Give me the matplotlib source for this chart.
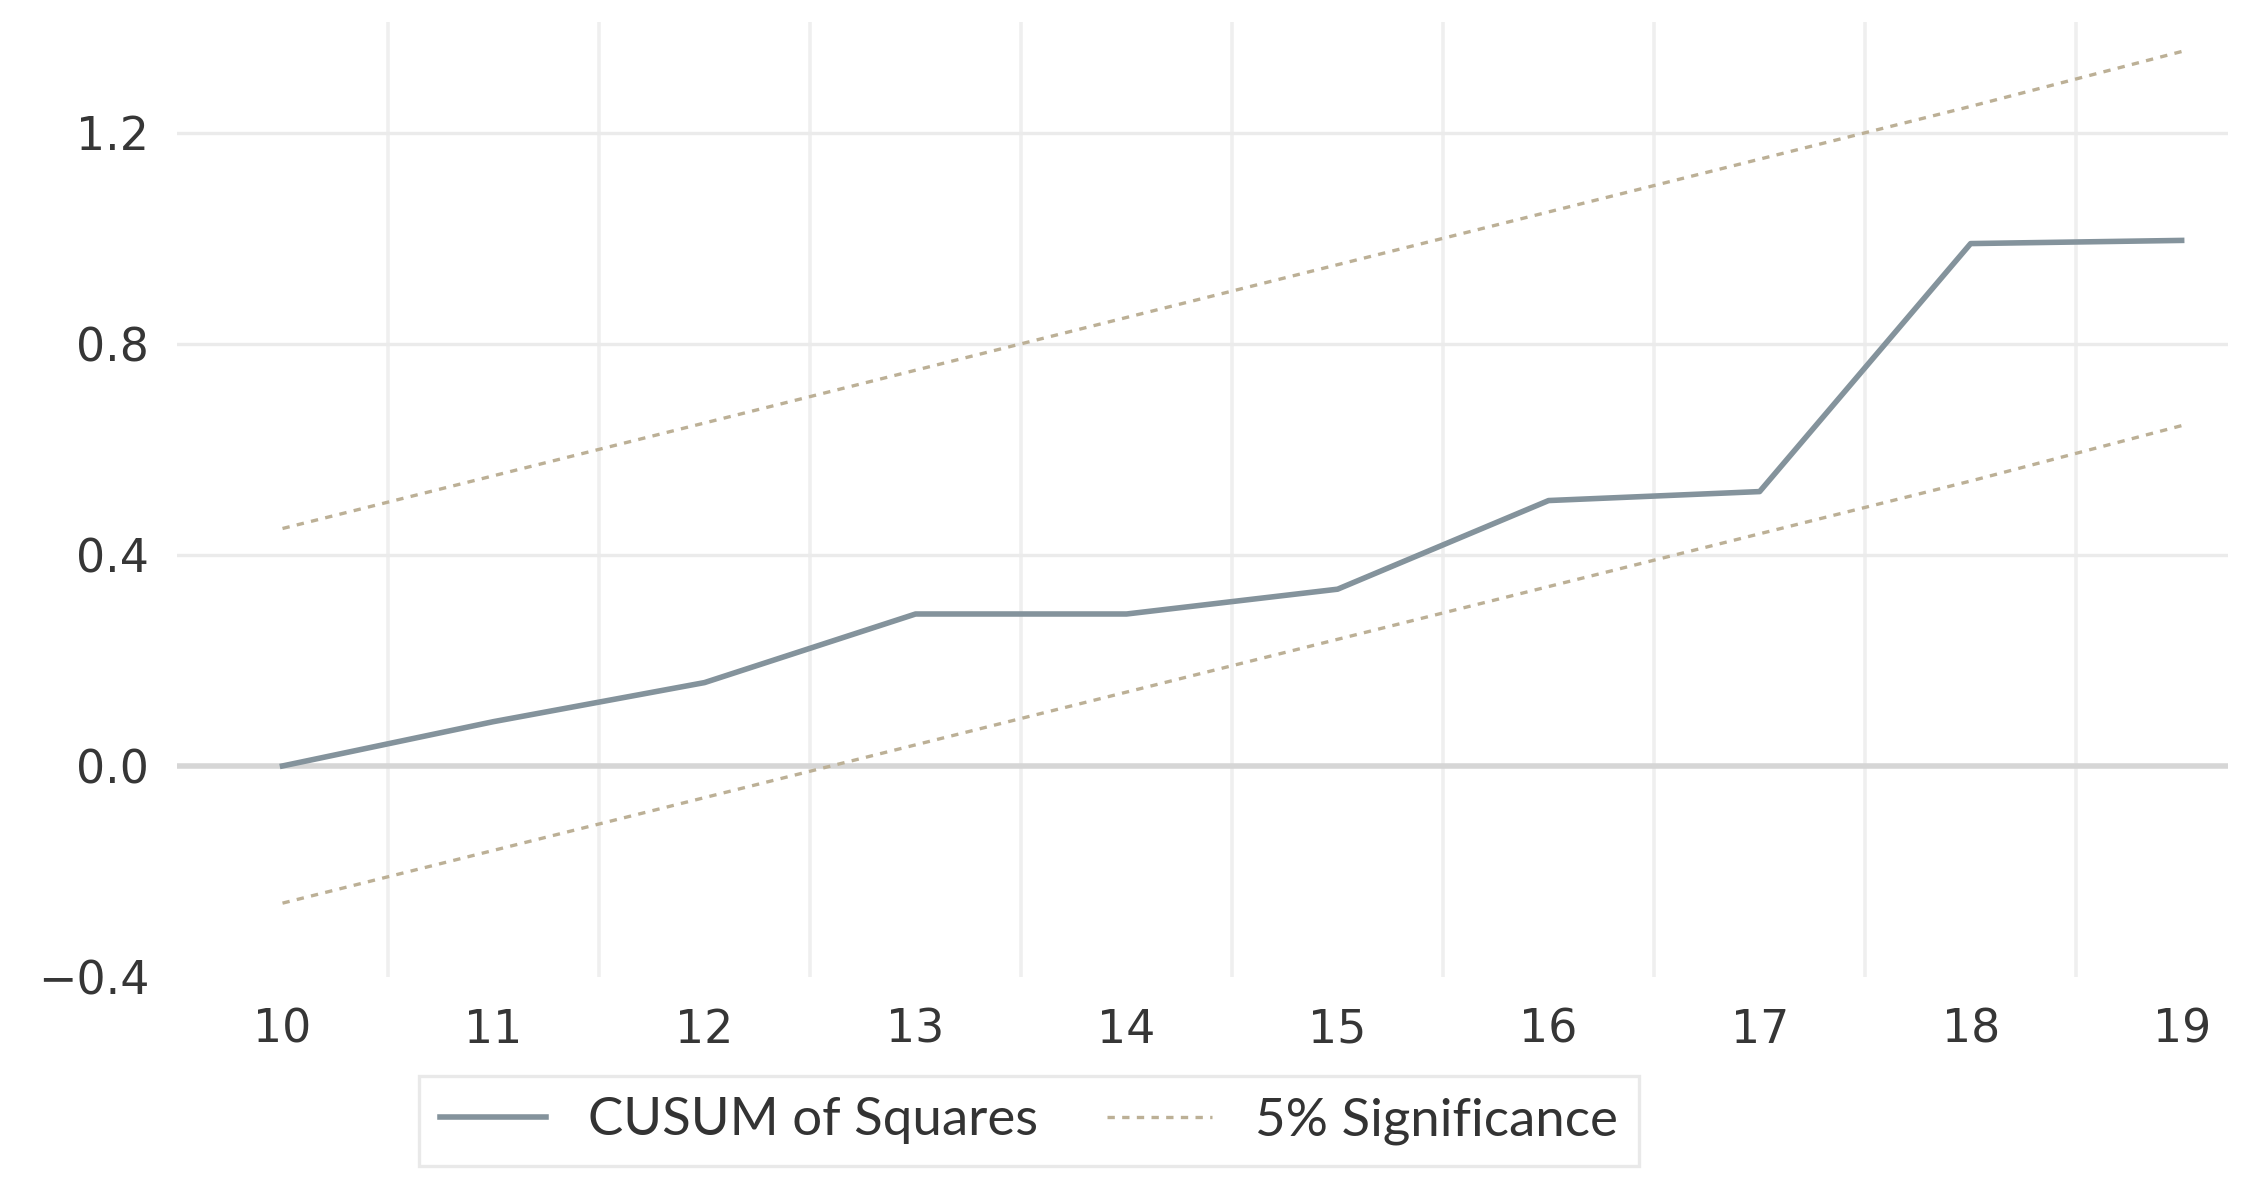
import matplotlib
matplotlib.use("Agg")
import matplotlib.pyplot as plt

# data
years = [10, 11, 12, 13, 14, 15, 16, 17, 18, 19]
cusum_sq = [0.0, 0.084, 0.158, 0.288, 0.288, 0.335, 0.503, 0.52, 0.99, 0.996]
upper_5 = [0.45, 0.55, 0.65, 0.75, 0.85, 0.95, 1.05, 1.15, 1.25, 1.354]
lower_5 = [-0.26, -0.16, -0.06, 0.04, 0.14, 0.24, 0.34, 0.44, 0.54, 0.645]
y_ticks = [-0.4, 0.0, 0.4, 0.8, 1.2]
v_grid = [10.5, 11.5, 12.5, 13.5, 14.5, 15.5, 16.5, 17.5, 18.5]

fig = plt.figure(figsize=(11.245, 5.935), dpi=200)
ax = fig.add_axes([0.0787, 0.1769, 0.912, 0.8046])

# grid
for gx in v_grid:
    ax.axvline(gx, color="#efefef", lw=1.3, zorder=0)
for gy in y_ticks[2:]:
    ax.axhline(gy, color="#ebebeb", lw=1.2, zorder=0)
ax.axhline(0.0, color="#d6d6d6", lw=2.0, zorder=1)

ax.plot(years, cusum_sq, color="#84939c", lw=2.0, label="CUSUM of Squares", zorder=3)
ax.plot(years, upper_5, color="#bcb096", lw=1.2, linestyle=(0, (2.2, 2.2)),
        label="5% Significance", zorder=2)
ax.plot(years, lower_5, color="#bcb096", lw=1.2, linestyle=(0, (2.2, 2.2)), zorder=2)

ax.set_xlim(9.5, 19.22)
ax.set_ylim(-0.4, 1.41)
ax.set_xticks(years)
ax.set_yticks(y_ticks)
ax.set_yticklabels(["\u22120.4", "0.0", "0.4", "0.8", "1.2"])
ax.tick_params(axis="both", length=0, labelsize=16.5, colors="#363636")
ax.tick_params(axis="y", pad=10)
ax.tick_params(axis="x", pad=11)
for s in ax.spines.values():
    s.set_visible(False)

leg = fig.legend(loc="center", bbox_to_anchor=(0.4575, 0.0556), ncol=2,
                 frameon=True, fancybox=False, edgecolor="#e4e4e4",
                 handlelength=2.0, handletextpad=0.8, columnspacing=1.3,
                 borderpad=0.4, prop={"family": ["Lato", "DejaVu Sans"], "size": 19})
leg.get_frame().set_linewidth(1.2)
for t in leg.get_texts():
    t.set_color("#333333")

fig.savefig("out.png", dpi=200)
